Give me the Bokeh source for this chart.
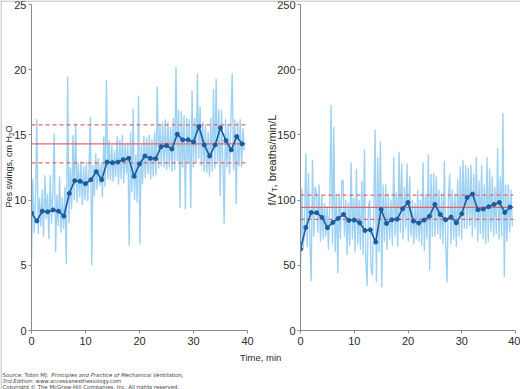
import math
from bokeh.plotting import figure
from bokeh.layouts import row, column
from bokeh.models import Label, Range1d, FixedTicker, Span
from bokeh.embed import file_html
from bokeh.resources import INLINE

# ---------------- data ----------------
minutes = list(range(40))

pes_mean = [9.0, 8.4, 9.15, 9.1, 9.25, 9.15, 8.77, 10.51, 11.49, 11.44,
            11.26, 11.56, 12.18, 11.56, 12.92, 12.87, 12.92, 13.1, 13.2, 11.82,
            12.77, 13.38, 13.2, 13.18, 14.1, 14.18, 13.92, 15.05, 14.62, 14.62,
            14.46, 15.64, 14.23, 13.38, 14.23, 15.54, 14.56, 13.85, 14.87, 14.31]

ratio_mean = [62.4, 79.0, 90.5, 90.3, 86.7, 78.8, 82.9, 85.9, 89.0, 84.4,
              84.7, 82.6, 76.7, 77.2, 67.8, 92.8, 82.1, 84.9, 85.4, 93.4,
              98.2, 83.9, 82.4, 84.7, 87.7, 96.7, 89.0, 84.9, 87.0, 82.6,
              89.5, 102.0, 104.6, 92.6, 93.1, 94.9, 96.7, 98.2, 90.5, 94.6]

pes_breaths = [
    5.3, 11.6, 7.5, 10.0,   16.2, 7.4, 10.2, 8.0,   10.8, 7.2, 11.9, 8.6,
    10.5, 7.0, 11.9, 8.2,   10.7, 15.1, 6.0, 10.4,  8.0, 11.8, 7.5, 10.2,
    7.8, 11.0, 5.1, 19.5,   8.2, 12.5, 9.3, 15.0,   10.0, 15.9, 9.8, 12.8,
    10.2, 13.0, 9.6, 12.6,  10.0, 12.9, 9.9, 12.4,  16.4, 5.0, 12.7, 10.3,
    13.6, 10.8, 13.2, 11.1, 12.8, 10.2, 14.9, 11.0, 19.2, 11.6, 14.6, 11.5,
    14.2, 11.4, 13.8, 11.8, 14.9, 11.2, 14.6, 11.6, 15.0, 11.3, 14.3, 12.0,
    14.4, 6.5, 15.2, 10.6,  17.0, 10.0, 13.5, 9.8,  18.0, 6.6, 14.2, 11.2,
    14.9, 11.7, 14.8, 12.0, 15.0, 11.6, 14.7, 11.8, 15.2, 11.9, 18.7, 12.4,
    15.8, 12.6, 16.0, 12.5, 16.2, 12.3, 16.0, 12.5, 15.6, 12.2, 16.3, 12.3,
    20.2, 13.0, 16.9, 9.4,  16.8, 12.5, 16.5, 9.3,  16.3, 12.8, 16.2, 9.4,
    18.4, 12.5, 16.3, 12.9, 19.7, 13.2, 17.2, 12.6, 16.0, 12.2, 15.8, 12.1,
    15.2, 11.8, 16.3, 12.2, 18.5, 12.4, 19.3, 12.8, 17.0, 10.3, 16.9, 13.0,
    8.2, 16.2, 12.5, 15.8,  12.0, 16.0, 19.7, 12.3, 16.2, 9.7, 16.0, 12.6,
    16.2, 12.5, 15.5, 13.8,
]

ratio_breaths = [
    45, 109, 62, 80,    136, 64, 121, 70,   38, 131, 72, 110,
    106, 75, 112, 68,   104, 70, 98, 72,    95, 62, 100, 173,
    66, 156, 60, 104,   44, 105, 70, 115,   115, 72, 100, 58,
    98, 65, 129, 70,    102, 60, 124, 66,   100, 62, 115, 58,
    139, 55, 34, 95,    100, 47, 42, 92,    154, 37, 133, 60,
    145, 33, 112, 68,   112, 62, 105, 70,   100, 65, 133, 72,
    106, 64, 137, 75,   128, 70, 110, 78,   128, 68, 118, 72,
    100, 66, 98, 70,    108, 68, 100, 65,   129, 61, 105, 70,
    135, 46, 120, 72,   121, 72, 118, 74,   108, 70, 105, 66,
    130, 65, 37, 100,   120, 66, 108, 70,   105, 64, 116, 72,
    126, 70, 131, 78,   127, 78, 125, 80,   127, 72, 120, 78,
    133, 68, 115, 74,   127, 70, 112, 66,   133, 68, 124, 76,
    118, 72, 110, 74,   140, 70, 118, 72,   167, 41, 112, 68,
    112, 75, 108, 80,
]

breath_t_end = 39.4
pes_band = [12.85, 14.31, 15.77]      # lower, mean, upper
ratio_band = [85.2, 94.4, 103.8]
band_span = [0, 39.6]

x_ticks = [0, 10, 20, 30, 40]
pes_ticks = [0, 5, 10, 15, 20, 25]
ratio_ticks = [0, 50, 100, 150, 200, 250]

LIGHT = "#9fd2f2"
DARK = "#1d5c9c"
RED = "#e8646a"
AXIS = "#8a8a8a"
TXT = "#2b2b2b"
FONT = "Liberation Sans"

n = len(pes_breaths)
breath_t = [breath_t_end * i / (n - 1) for i in range(n)]

W, H = 520, 389


def style(p, yticks):
    p.grid.visible = False
    p.outline_line_color = None
    p.xaxis.ticker = FixedTicker(ticks=x_ticks)
    p.yaxis.ticker = FixedTicker(ticks=yticks)
    for ax in (p.xaxis[0], p.yaxis[0]):
        ax.axis_line_color = AXIS
        ax.major_tick_line_color = AXIS
        ax.major_tick_out = 3
        ax.major_tick_in = 0
        ax.minor_tick_line_color = None
        ax.major_label_text_font = FONT
        ax.major_label_text_font_size = "11px"
        ax.major_label_text_color = TXT
    p.xaxis[0].major_label_standoff = 3
    p.yaxis[0].major_label_standoff = 2


def panel(p, breaths, mean, band):
    p.line(breath_t, breaths, line_color=LIGHT, line_width=1.4)
    p.segment(x0=[band_span[0]] * 2, x1=[band_span[1]] * 2, y0=[band[0], band[2]],
              y1=[band[0], band[2]], line_color=RED, line_width=1.2, line_dash="4 3")
    p.segment(x0=[band_span[0]], x1=[band_span[1]], y0=[band[1]], y1=[band[1]],
              line_color=RED, line_width=1.3)
    p.line(minutes, mean, line_color=DARK, line_width=1.6)
    p.scatter(minutes, mean, size=4, color=DARK)


# ---------------- left panel ----------------
p1 = figure(width=260, height=H, x_range=Range1d(0, 40), y_range=Range1d(0, 25),
            output_backend="svg", toolbar_location=None,
            min_border_left=31, min_border_right=13, min_border_top=4, min_border_bottom=59)
style(p1, pes_ticks)
panel(p1, pes_breaths, pes_mean, pes_band)

# ---------------- right panel ----------------
p2 = figure(width=260, height=H, x_range=Range1d(0, 40), y_range=Range1d(0, 250),
            output_backend="svg", toolbar_location=None,
            min_border_left=40, min_border_right=5, min_border_top=4, min_border_bottom=59)
style(p2, ratio_ticks)
panel(p2, ratio_breaths, ratio_mean, ratio_band)

# ---------------- transparent text layer over the whole page ----------------
p3 = figure(width=W, height=H, x_range=Range1d(0, W), y_range=Range1d(0, H),
            output_backend="svg", toolbar_location=None,
            x_axis_location=None, y_axis_location=None, min_border=0)
p3.background_fill_color = None
p3.border_fill_color = None
p3.outline_line_color = None
p3.grid.visible = False

has_frame_align = "frame_align" in p3.properties()
if has_frame_align:
    p3.frame_align = False
    p3.margin = (0, 0, 0, -W)
else:
    p3.margin = (-H, 0, 0, 0)


def lab(x, y, text, size, angle=0.0, style_="normal", color=TXT, font=FONT):
    # screen units: pixels from the page's bottom-left corner
    p3.add_layout(Label(x=x, y=y, x_units="screen", y_units="screen", text=text,
                        angle=angle, text_font=font, text_font_size=size,
                        text_font_style=style_, text_color=color,
                        text_align="left", text_baseline="alphabetic"))


up = math.pi / 2
lab(8.5, 182, "Pes swings, cm H", "9px", up)
lab(10.5, 253.5, "2", "6.5px", up)
lab(8.5, 257.1, "O", "9px", up)

lab(271, 184, "f/V", "11px", up)
lab(273.5, 197.5, "T", "7.5px", up)
lab(271, 202.1, ", breaths/min/L", "11px", up)

lab(239.5, 32, "Time, min", "9.5px")

SF = "DejaVu Sans"
SC = "#444444"
lab(2, 15, "Source: Tobin MJ: ", "5.4px", font=SF, color=SC)
lab(50.7, 15, "Principles and Practice of Mechanical Ventilation,", "5.4px",
    style_="italic", font=SF, color=SC)
lab(2, 8.5, "3rd Edition", "5.4px", style_="italic", font=SF, color=SC)
lab(31.5, 8.5, ": www.accessanesthesiology.com", "5.4px", font=SF, color=SC)
lab(2, 2.2, "Copyright \u00a9 The McGraw-Hill Companies, Inc. All rights reserved.",
    "5.4px", font=SF, color=SC)

p3.add_layout(Span(location=0.5, dimension="height", location_units="screen",
                   line_color="#aaaaaa", line_width=1))
p3.add_layout(Span(location=H - 0.5, dimension="width", location_units="screen",
                   line_color="#aaaaaa", line_width=1))

if has_frame_align:
    layout = row(p1, p2, p3)
else:
    layout = column(row(p1, p2), p3)
open("out.html", "w").write(file_html(layout, INLINE))
